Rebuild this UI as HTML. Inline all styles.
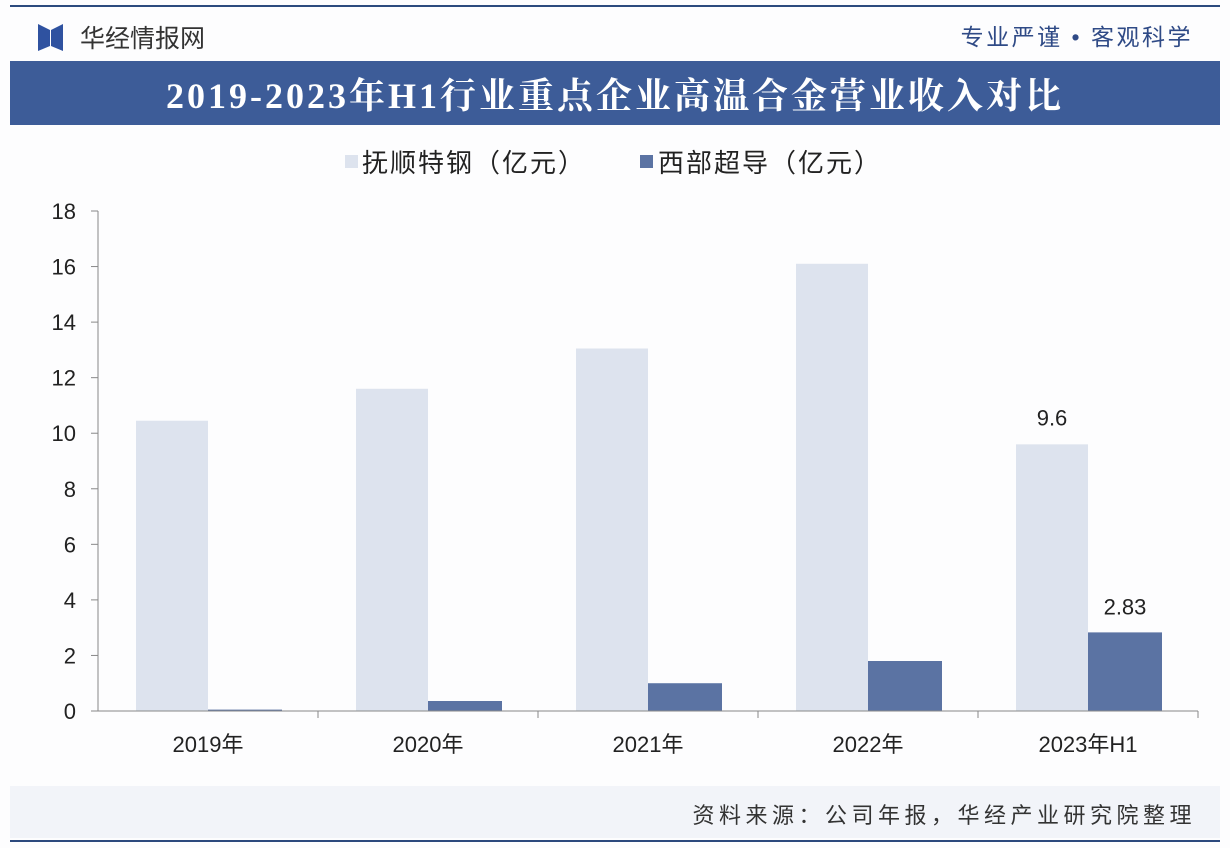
<!DOCTYPE html>
<html><head><meta charset="utf-8"><style>
body{margin:0;width:1230px;height:848px;background:#fff;overflow:hidden;font-family:"Liberation Sans","Noto Sans CJK SC",sans-serif;}
</style></head><body>
<svg width="1230" height="848" xmlns="http://www.w3.org/2000/svg" style="position:absolute;left:0;top:0">
<rect x="0" y="0" width="1230" height="848" fill="#fdfdfe"/>
<line x1="10" y1="6" x2="1220" y2="6" stroke="#2c4a7e" stroke-width="2"/>
<g>
<polygon points="38,24 50,30 50,46 38,51" fill="#2f52a0"/>
<polygon points="63,24 51,30 51,46 63,51" fill="#2f52a0"/>
</g>
<text x="80" y="47" font-size="25" fill="#333">华经情报网</text>
<text x="1193" y="45" font-size="23" fill="#2f4a86" text-anchor="end" letter-spacing="2.5">专业严谨 • 客观科学</text>
<rect x="10" y="61" width="1210" height="64" fill="#3d5c98"/>
<text x="615" y="108" font-size="36" font-weight="bold" fill="#fff" text-anchor="middle" letter-spacing="3" font-family="'Liberation Serif','Noto Serif CJK SC',serif">2019-2023年H1行业重点企业高温合金营业收入对比</text>
<g>
<rect x="345" y="155" width="13" height="13" fill="#dde3ee"/>
<text x="362" y="172" font-size="26" letter-spacing="2" fill="#222">抚顺特钢（亿元）</text>
<rect x="640" y="155" width="13" height="13" fill="#5b73a3"/>
<text x="658" y="172" font-size="26" letter-spacing="2" fill="#222">西部超导（亿元）</text>
</g>
<g id="plot"></g>
<rect x="10" y="786" width="1210" height="52" fill="#f2f4f9"/>
<text x="1196" y="823" font-size="22" letter-spacing="4.5" fill="#333" text-anchor="end">资料来源：公司年报，华经产业研究院整理</text>
<line x1="10" y1="841" x2="1220" y2="841" stroke="#2c4a7e" stroke-width="2"/>
</svg>
<script>
const categories=["2019年","2020年","2021年","2022年","2023年H1"];
const fushun=[10.45,11.6,13.05,16.1,9.6];
const xibu=[0.05,0.36,1.0,1.8,2.83];
const yTicks=[0,2,4,6,8,10,12,14,16,18];
const NS="http://www.w3.org/2000/svg";
const g=document.getElementById('plot');
const x0=98,x1=1198,yb=711,yt=211,ymax=18;
const bw=(x1-x0)/categories.length;
const Y=v=>yb-(v/ymax)*(yb-yt);
const X=i=>x0+bw*i+bw/2;
function mk(t,a){const e=document.createElementNS(NS,t);for(const k in a)e.setAttribute(k,a[k]);g.appendChild(e);return e;}
yTicks.forEach(v=>{
 const t=mk('text',{x:76,y:Y(v)+8,'font-size':22,fill:'#222','text-anchor':'end'});t.textContent=v;
 
 
 const l=mk('line',{x1:91,x2:98,y1:Y(v),y2:Y(v),stroke:'#888'});
 
 
});
const ya=mk('line',{x1:x0,x2:x0,y1:yt,y2:yb,stroke:'#888'});


categories.forEach((c,i)=>{
 const cx=X(i);
 const r1=mk('rect',{x:cx-72,y:Y(fushun[i]),width:72,height:yb-Y(fushun[i]),fill:'#dde3ee'});
 
 
 const r2=mk('rect',{x:cx,y:Y(xibu[i]),width:74,height:Math.max(1.5,yb-Y(xibu[i])),fill:'#5b73a3'});
 
 
 const t=mk('text',{x:cx,y:752,'font-size':22,fill:'#222','text-anchor':'middle'});t.textContent=c;
 
 
 const tk=mk('line',{x1:x0+bw*(i+1),x2:x0+bw*(i+1),y1:yb,y2:yb+7,stroke:'#888'});
 
 
});
const xa=mk('line',{x1:x0,x2:x1,y1:yb,y2:yb,stroke:'#888'});


const li=categories.length-1;
const l1=mk('text',{x:X(li)-36,y:Y(fushun[li])-19,'font-size':22,fill:'#222','text-anchor':'middle'});l1.textContent=fushun[li];


const l2=mk('text',{x:X(li)+37,y:Y(xibu[li])-18,'font-size':22,fill:'#222','text-anchor':'middle'});l2.textContent=xibu[li];


</script>
</body></html>
